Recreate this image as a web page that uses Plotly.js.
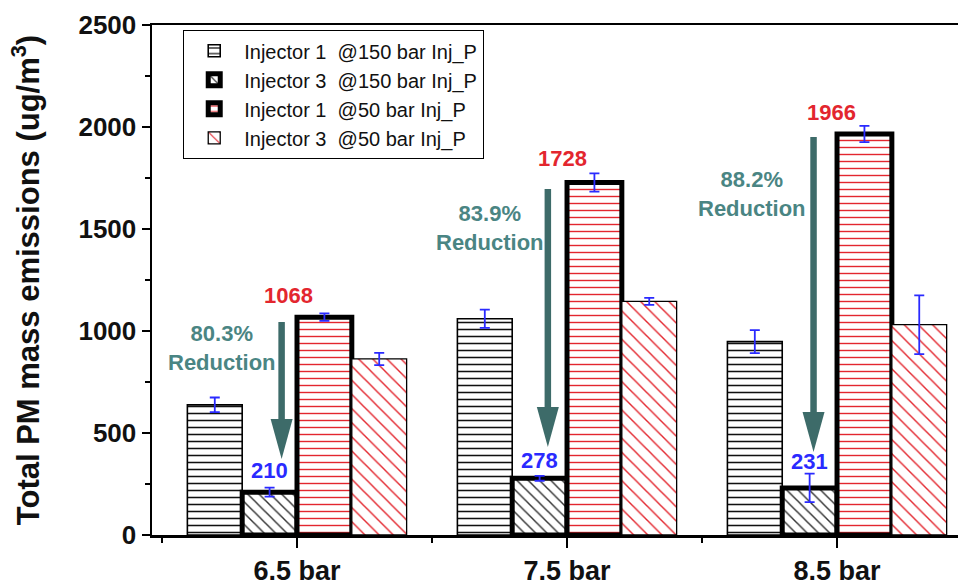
<!DOCTYPE html>
<html>
<head>
<meta charset="utf-8">
<script src="https://cdn.plot.ly/plotly-3.0.1.min.js"></script>
<style>html,body{margin:0;padding:0;background:#fff;}#chart{width:958px;height:585px;}</style>
</head>
<body>
<div id="chart"></div>
<script>
// ---- data ----
const categories = ['6.5 bar', '7.5 bar', '8.5 bar'];
const seriesNames = [
  'Injector 1\u00a0 @150 bar Inj_P',
  'Injector 3\u00a0 @150 bar Inj_P',
  'Injector 1\u00a0 @50 bar Inj_P',
  'Injector 3\u00a0 @50 bar Inj_P'
];
const inj1_150 = [638, 1060, 948];
const inj1_150_err = [36, 45, 56];
const inj3_150 = [210, 278, 231];
const inj3_150_err = [22, 12, 70];
const inj1_50 = [1068, 1728, 1966];
const inj1_50_err = [18, 45, 40];
const inj3_50 = [863, 1145, 1031];
const inj3_50_err = [30, 17, 144];
const reductionPct = ['80.3%', '83.9%', '88.2%'];
const arrowTail = [1044, 1696, 1951];
const arrowTip = [373, 431, 407];

// ---- styling / positions ----
const FONT = 'Liberation Sans, Arial, sans-serif';
const xIdx = categories.map((_, i) => i);
const errStyle = arr => ({type: 'data', array: arr, visible: true, color: '#2a2aff', thickness: 1.8, width: 5});

const traces = [
  {name: seriesNames[0], y: inj1_150, err: inj1_150_err, fg: '#111', shape: '-', size: 7, sol: 0.22, lw: 1.6},
  {name: seriesNames[1], y: inj3_150, err: inj3_150_err, fg: '#333', shape: '\\', size: 8, sol: 0.18, lw: 5},
  {name: seriesNames[2], y: inj1_50, err: inj1_50_err, fg: '#e3262e', shape: '-', size: 7, sol: 0.2, lw: 5},
  {name: seriesNames[3], y: inj3_50, err: inj3_50_err, fg: '#e3262e', shape: '\\', size: 10, sol: 0.14, lw: 1.3}
].map(s => ({
  type: 'bar', name: s.name, x: xIdx, y: s.y,
  error_y: errStyle(s.err),
  marker: {color: 'white', line: {color: 'black', width: s.lw},
           pattern: {shape: s.shape, fgcolor: s.fg, bgcolor: 'white', size: s.size, solidity: s.sol}},
  hoverinfo: 'x+y'
}));

const barSlot = 0.203; // category fraction per bar
const annotations = [];
const shapes = [];
const teal = '#4a8583';
const arrowCol = '#3d6b69';
const labelShiftBlue = [7, 3, 12];
const labelShiftRed = [7, 9, 7];
const arrowDx = [-0.057, -0.071, -0.087];
const redDx = [-0.033, -0.015, -0.02];
const reductionPos = [[-0.279, 919], [0.714, 1507], [1.684, 1674]];

xIdx.forEach(i => {
  annotations.push({x: i - barSlot / 2, y: inj3_150[i], xref: 'x', yref: 'y', yanchor: 'bottom', yshift: labelShiftBlue[i],
    text: String(inj3_150[i]), showarrow: false, font: {family: FONT, size: 22, color: '#2a2aff', weight: 'bold'}});
  annotations.push({x: i + redDx[i], y: inj1_50[i], xref: 'x', yref: 'y', yanchor: 'bottom', yshift: labelShiftRed[i],
    text: String(inj1_50[i]), showarrow: false, font: {family: FONT, size: 22, color: '#e3262e', weight: 'bold'}});
  annotations.push({x: reductionPos[i][0], y: reductionPos[i][1], xref: 'x', yref: 'y',
    text: reductionPct[i] + '<br>Reduction', showarrow: false, align: 'center',
    font: {family: FONT, size: 22, color: teal, weight: 'bold'}});
  // arrow shaft
  shapes.push({type: 'line', xref: 'x', yref: 'y', x0: i + arrowDx[i], x1: i + arrowDx[i],
    y0: arrowTail[i], y1: arrowTip[i] + 100, line: {color: arrowCol, width: 6.5}, layer: 'above'});
  // arrow head
  shapes.push({type: 'path', xref: 'x', yref: 'y', xsizemode: 'pixel', ysizemode: 'pixel',
    xanchor: i + arrowDx[i], yanchor: arrowTip[i], path: 'M-11,40 L11,40 L0,0 Z',
    fillcolor: arrowCol, line: {width: 0}, layer: 'above'});
});

const layout = {
  width: 958, height: 585,
  margin: {l: 152, r: 0, t: 25, b: 50},
  paper_bgcolor: 'white', plot_bgcolor: 'white',
  barmode: 'group', bargap: 0.188, bargroupgap: 0,
  showlegend: true,
  legend: {x: 0.0385, y: 0.99, xanchor: 'left', yanchor: 'top', bgcolor: 'white',
    bordercolor: 'black', borderwidth: 1.2, font: {family: FONT, size: 20, color: '#111'},
    itemwidth: 50, tracegroupgap: 0},
  xaxis: {
    range: [-0.537, 2.448], tickvals: xIdx, ticktext: categories,
    showgrid: false, zeroline: false, showline: true, linecolor: 'black', linewidth: 2.5, mirror: true,
    ticks: 'outside', ticklen: 10, tickwidth: 2.5, tickcolor: 'black',
    minor: {tick0: 0.5, dtick: 1, ticks: 'outside', ticklen: 5, tickwidth: 2, tickcolor: 'black'},
    tickfont: {family: FONT, size: 27, color: '#111', weight: 'bold'}
  },
  yaxis: {
    range: [0, 2500], tickvals: [0, 500, 1000, 1500, 2000, 2500],
    showgrid: false, zeroline: false, showline: true, linecolor: 'black', linewidth: 2.5,
    ticks: 'outside', ticklen: 8, tickwidth: 2.5, tickcolor: 'black',
    minor: {dtick: 250, ticks: 'outside', ticklen: 5, tickwidth: 2, tickcolor: 'black'},
    tickfont: {family: FONT, size: 26, color: '#111', weight: 'bold'},
    title: {text: 'Total PM mass emissions (ug/m<sup>3</sup>)', font: {family: FONT, size: 31, color: '#111', weight: 'bold'}, standoff: 30}
  },
  annotations: annotations,
  shapes: shapes
};

Plotly.newPlot('chart', traces, layout, {displayModeBar: false, staticPlot: true});
</script>
</body>
</html>
